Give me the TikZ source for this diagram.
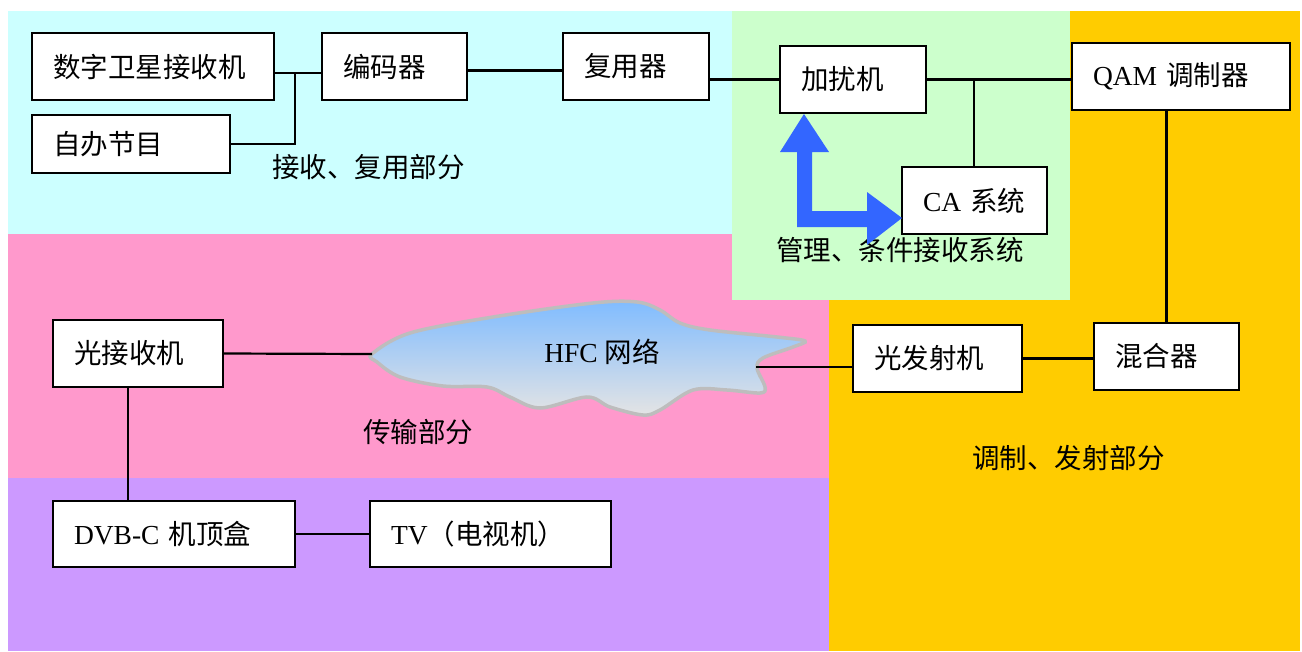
\documentclass[tikz,border=0pt]{standalone}
\usepackage{fontspec}
\setmainfont{Liberation Serif}
\newfontfamily\cjk{Noto Sans CJK SC}
\definecolor{bgcyan}{HTML}{CCFFFF}
\definecolor{bggreen}{HTML}{CCFFCC}
\definecolor{bgpink}{HTML}{FF99CC}
\definecolor{bgorange}{HTML}{FFCC00}
\definecolor{bgpurple}{HTML}{CC99FF}
\definecolor{arrowblue}{HTML}{3366FF}
\definecolor{cloudtop}{HTML}{80BCFF}
\definecolor{cloudbot}{HTML}{E4E4E4}
\definecolor{cloudedge}{HTML}{BDBDBD}
\begin{document}
\begin{tikzpicture}[x=1pt,y=-1pt,
  box/.style={draw=black, line width=2.2pt, fill=white, inner xsep=21pt, inner ysep=0pt,
    outer sep=0pt, align=left, anchor=north west, font=\fontsize{27.5}{33}\selectfont},
  lbl/.style={inner sep=0pt, anchor=west, font=\fontsize{27.5}{33}\selectfont},
  wire/.style={line width=2.2pt, draw=black},
  cloudline/.style={draw=cloudedge, line width=3.5pt},
  bigarrow/.style={fill=arrowblue, draw=none}
]
\useasboundingbox (0,0) rectangle (1302,651);
% background regions
\fill[bgorange] (829,11) rectangle (1300,651);
\fill[bgpink] (8,234) rectangle (829,478);
\fill[bgpurple] (8,478) rectangle (829,651);
\fill[bgcyan] (8,11) rectangle (732,234);
\fill[bggreen] (732,11) rectangle (1070,300);

% boxes
\node[box, text width=200pt, minimum height=67pt] (sat) at (32,33) {\cjk 数字卫星接收机};
\node[box, text width=156pt, minimum height=58pt] (self) at (32,115) {\cjk 自办节目};
\node[box, text width=103pt, minimum height=67pt] (enc) at (322,33) {\cjk 编码器};
\node[box, text width=104pt, minimum height=67pt] (mux) at (563,33) {\cjk 复用器};
\node[box, text width=104pt, minimum height=67pt] (scr) at (780,46) {\cjk 加扰机};
\node[box, text width=103pt, minimum height=67pt] (ca) at (902,167) {CA {\cjk 系统}};
\node[box, text width=176pt, minimum height=67pt] (qam) at (1072,43) {QAM {\cjk 调制器}};
\node[box, text width=103pt, minimum height=67pt] (mix) at (1094,323) {\cjk 混合器};
\node[box, text width=127pt, minimum height=67pt] (otx) at (853,325) {\cjk 光发射机};
\node[box, text width=128pt, minimum height=67pt] (orx) at (53,320) {\cjk 光接收机};
\node[box, text width=200pt, minimum height=66pt] (stb) at (53,501) {DVB-C {\cjk 机顶盒}};
\node[box, text width=199pt, minimum height=66pt] (tv) at (370,501) {TV{\cjk （电视机）}};

% cloud
\shade[top color=cloudtop, bottom color=cloudbot] plot[smooth cycle, tension=0.55] coordinates {
  (372,354) (410,333) (493,317) (593,303) (637,302) (660,310) (680,323) (710,330)
  (777,337) (805,341) (793,347) (763,358) (757,368) (765,387) (760,393) (727,390)
  (693,390) (660,410) (643,415) (610,407) (587,397) (540,408) (510,397) (487,387)
  (443,386) (400,377) (377,362)};
\draw[cloudline] plot[smooth cycle, tension=0.55] coordinates {
  (372,354) (410,333) (493,317) (593,303) (637,302) (660,310) (680,323) (710,330)
  (777,337) (805,341) (793,347) (763,358) (757,368) (765,387) (760,393) (727,390)
  (693,390) (660,410) (643,415) (610,407) (587,397) (540,408) (510,397) (487,387)
  (443,386) (400,377) (377,362)};
\coordinate (cl) at (372,354);
\coordinate (cr) at (756,367);
\node[lbl, anchor=center] (hfc) at (602,352) {HFC {\cjk 网络}};

% connectors
\coordinate (j1) at (295,73);
\draw[wire] (sat.east |- j1) -- (enc.west |- j1);
\draw[wire] (j1) -- (j1 |- self.east) -- (self.east);
\draw[wire] ([yshift=-4pt]enc.east) -- ([yshift=-4pt]mux.west);
\draw[wire] (mux.east |- scr.west) -- (scr.west);
\draw[wire] (scr.east) -- (qam.west |- scr.east);
\coordinate (j2) at (974,79.5);
\draw[wire] (j2) -- (j2 |- ca.north);
\draw[wire] (mix.north |- qam.south) -- (mix.north);
\draw[wire] (otx.east) -- (mix.west |- otx.east);
\draw[wire] (otx.west |- cr) -- (cr);
\draw[wire] (orx.east) -- (cl);
\draw[wire] ([xshift=-10pt]orx.south) -- ([xshift=-10pt]orx.south |- stb.north);
\draw[wire] (stb.east) -- (tv.west);

% labels
\node[lbl] (l1) at (272,167) {\cjk 接收、复用部分};
\node[lbl] (l2) at (776,250) {\cjk 管理、条件接收系统};
\node[lbl] (l3) at (363,432) {\cjk 传输部分};
\node[lbl] (l4) at (972,458) {\cjk 调制、发射部分};

% blue bent double arrow
\fill[bigarrow] (804,114) -- (829,152) -- (812,152) -- (812,211) -- (867,211) -- (867,192)
  -- (902,218) -- (867,245) -- (867,227) -- (797,227) -- (797,152) -- (780,152) -- cycle;
\end{tikzpicture}
\end{document}
